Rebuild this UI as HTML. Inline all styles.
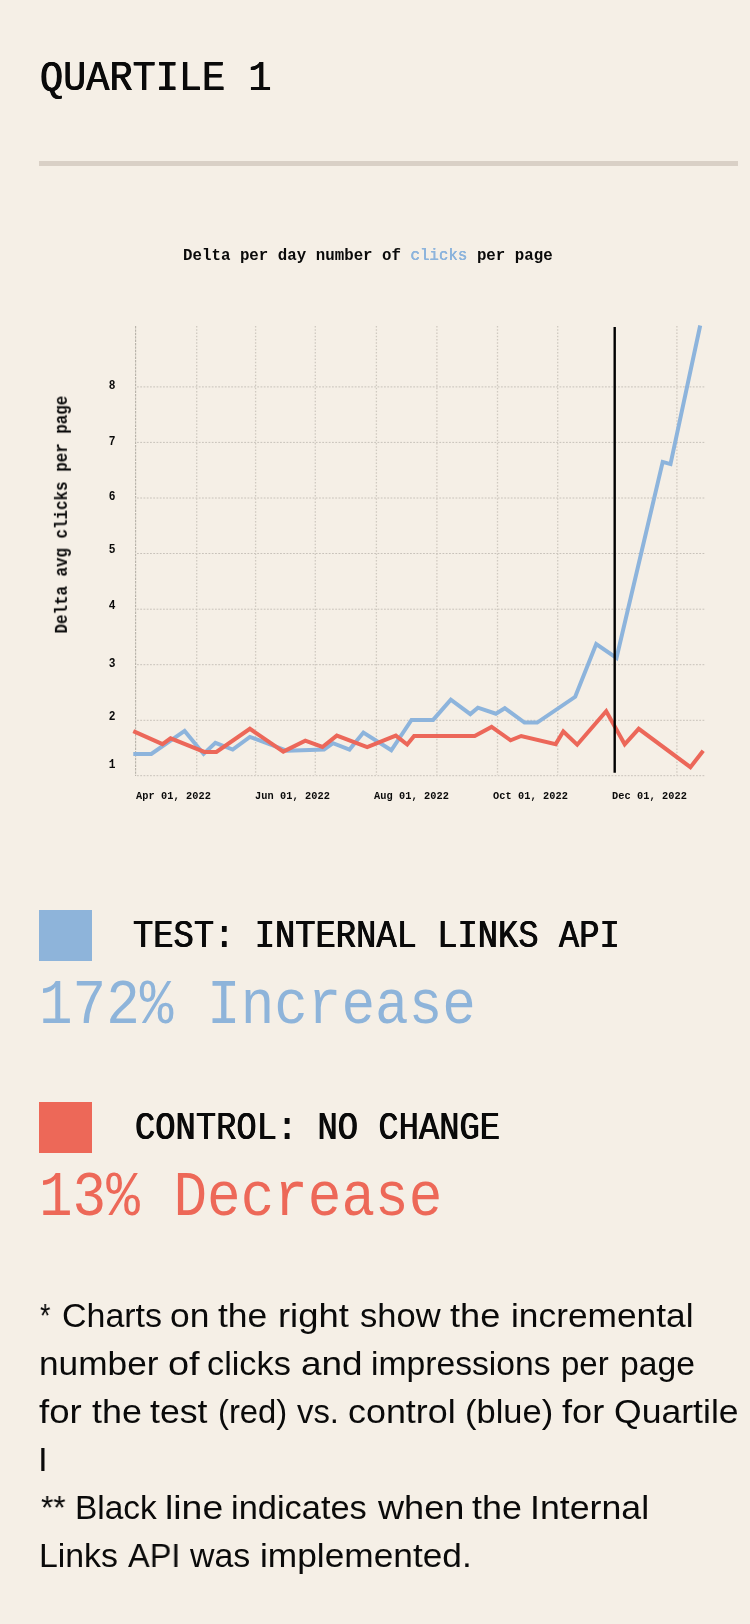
<!DOCTYPE html>
<html>
<head>
<meta charset="utf-8">
<title>Quartile 1</title>
<style>
  html, body { margin: 0; padding: 0; background: #f5efe6; }
  body {
    width: 750px; height: 1624px; overflow: hidden;
    background: #f5efe6;
    font-family: "Liberation Mono", monospace;
    color: #0a0a0a;
    position: relative;
  }
  .abs { position: absolute; white-space: nowrap; line-height: 1; margin: 0; will-change: transform; }
  .sy { transform-origin: 0 76.67%; transform: scaleY(var(--s, 1.1)); }
  .thick { text-shadow: 0.45px 0 0 currentColor, -0.45px 0 0 currentColor; }
  .mono { font-family: "Liberation Mono", monospace; }
  .sans { font-family: "Liberation Sans", sans-serif; }

  #title { left: 40.2px; top: 60.7px; font-size: 38.6px; --s: 1.10; }
  #rule { position: absolute; left: 39px; top: 161px; width: 699px; height: 4.8px; background: #d9d0c6; }

  #ctitle { left: 183px; top: 249px; font-size: 15.8px; font-weight: bold; --s: 1.10; }
  #ctitle span { color: #8db4dc; font-weight: normal; text-shadow: 0.15px 0 0 currentColor, -0.15px 0 0 currentColor; }

  #ylabel { left: 0; top: 0; font-size: 15.85px; font-weight: bold;
            transform-origin: 0 0; transform: translate(55.9px, 633.5px) rotate(-90deg); }
  #ylabel span { display: inline-block; transform-origin: 0 76.67%; transform: scaleY(1.14); }

  .ytick { font-size: 11.2px; font-weight: bold; width: 12px; text-align: center; left: 106px; --s: 1.12; }
  .xtick { letter-spacing: 0.06px; font-size: 10.3px; font-weight: bold; top: 791px; --s: 1.14; }

  .sq { position: absolute; left: 39px; width: 53px; height: 51px; }
  .lg { font-size: 33.8px; }
  .big { font-size: 56px; }

  #notes span { position: absolute; white-space: nowrap; font-size: 32.8px; line-height: 48px; transform-origin: 0 0; will-change: transform; }
</style>
</head>
<body>

<div id="title" class="abs mono sy thick">QUARTILE 1</div>
<div id="rule"></div>

<div id="ctitle" class="abs mono sy">Delta per day number of <span>clicks</span> per page</div>

<svg id="chart" class="abs" style="left:0;top:300px" width="750" height="520" viewBox="0 300 750 520">
  <!-- gridlines -->
  <g fill="none" stroke="#c8c2ba" stroke-width="1" stroke-dasharray="1.8 1.45">
    <path d="M137 386.9H705.5 M137 442.4H705.5 M137 498H705.5 M137 553.5H705.5 M137 609.2H705.5 M137 664.7H705.5 M137 720.3H705.5 M137 775.7H705.5"/>
  </g>
  <g fill="none" stroke="#cfc9c0" stroke-width="1.3" stroke-dasharray="1.5 1.75">
    <path d="M196.7 326V775 M255.6 326V775 M315.3 326V775 M376.4 326V775 M436.9 326V775 M497.5 326V775 M557.7 326V775 M676.9 326V775"/>
  </g>
  <path d="M135.6 326V776" fill="none" stroke="#b6b1a9" stroke-width="1.1" stroke-dasharray="2.4 1"/>

  <!-- blue (test) -->
  <polyline fill="none" stroke="#8db4dc" stroke-width="4" stroke-linejoin="miter" stroke-linecap="butt"
    points="133.3,754 151.3,754 184.6,730.9 203.6,753.9 215.4,742.9 232.7,749.5 249.9,736.9 287.1,750.8 324.1,749.5 333,743.2 349.5,749.5 363.4,732.6 391.3,750.3 411.5,719.9 433.1,719.9 450.8,699.6 470.3,714.1 477.9,707.7 495.9,713.7 504.8,708.2 524.5,722.6 537.2,722.6 575.2,696.8 596.2,644.1 616.5,658 662.7,461.9 670.5,464.1 700.2,325.5"/>
  <!-- red (control) -->
  <polyline fill="none" stroke="#ec6759" stroke-width="4" stroke-linejoin="miter" stroke-linecap="butt"
    points="133.3,731.2 162.5,744.2 170.6,738.3 204.4,751.9 216.4,751.9 249.9,728.8 283.3,751.6 305.3,740.7 322.4,747 336.8,735.6 367.2,747 395.8,735.6 407.2,744.5 414.1,735.9 474.7,735.9 491.6,726.9 510.6,740.3 521.2,736 555.7,744.1 563.3,731.5 577.2,744.7 606.2,711.2 624.7,744.3 638.7,728.8 690.4,767.2 703.2,750.7"/>
  <!-- black marker -->
  <path d="M614.7 327V772.7" fill="none" stroke="#000" stroke-width="2.4"/>
</svg>

<div id="ylabel" class="abs mono"><span>Delta avg clicks per page</span></div>

<div class="abs mono ytick sy" style="top:381px">8</div>
<div class="abs mono ytick sy" style="top:437px">7</div>
<div class="abs mono ytick sy" style="top:492px">6</div>
<div class="abs mono ytick sy" style="top:545px">5</div>
<div class="abs mono ytick sy" style="top:601px">4</div>
<div class="abs mono ytick sy" style="top:659px">3</div>
<div class="abs mono ytick sy" style="top:712px">2</div>
<div class="abs mono ytick sy" style="top:760px">1</div>

<div class="abs mono xtick sy" style="left:135.8px">Apr 01, 2022</div>
<div class="abs mono xtick sy" style="left:255px">Jun 01, 2022</div>
<div class="abs mono xtick sy" style="left:374.3px">Aug 01, 2022</div>
<div class="abs mono xtick sy" style="left:493.3px">Oct 01, 2022</div>
<div class="abs mono xtick sy" style="left:612.3px">Dec 01, 2022</div>

<div class="sq" style="top:909.5px;background:#8eb4da"></div>
<div class="abs mono lg sy thick" style="left:132.5px;top:922px;--s:1.125">TEST: INTERNAL LINKS API</div>
<div class="abs mono big sy" style="left:39px;top:979.5px;color:#8eb4da;--s:1.14">172% Increase</div>

<div class="sq" style="top:1101.7px;background:#ed6858"></div>
<div class="abs mono lg sy thick" style="left:135px;top:1114.4px;--s:1.125">CONTROL: NO CHANGE</div>
<div class="abs mono big sy" style="left:39.3px;top:1171.7px;color:#ed6858;--s:1.14">13% Decrease</div>

<!--NOTES-->
<div id="notes" class="sans">
<span style="left:40.17px;top:1292px;transform:scaleX(0.8084)">*</span>
<span style="left:61.54px;top:1292px;transform:scaleX(1.0349)">Charts</span>
<span style="left:170.29px;top:1292px;transform:scaleX(1.0791)">on</span>
<span style="left:218.33px;top:1292px;transform:scaleX(1.0808)">the</span>
<span style="left:277.72px;top:1292px;transform:scaleX(1.1095)">right</span>
<span style="left:359.89px;top:1292px;transform:scaleX(1.0524)">show</span>
<span style="left:450.27px;top:1292px;transform:scaleX(1.1038)">the</span>
<span style="left:510.54px;top:1292px;transform:scaleX(1.0765)">incremental</span>
<span style="left:38.97px;top:1340px;transform:scaleX(1.0747)">number</span>
<span style="left:167.82px;top:1340px;transform:scaleX(1.1568)">of</span>
<span style="left:207.43px;top:1340px;transform:scaleX(1.0452)">clicks</span>
<span style="left:300.50px;top:1340px;transform:scaleX(1.1255)">and</span>
<span style="left:371.43px;top:1340px;transform:scaleX(1.0261)">impressions</span>
<span style="left:560.59px;top:1340px;transform:scaleX(1.0069)">per</span>
<span style="left:620.16px;top:1340px;transform:scaleX(1.0277)">page</span>
<span style="left:39.38px;top:1388px;transform:scaleX(1.1163)">for</span>
<span style="left:91.81px;top:1388px;transform:scaleX(1.0923)">the</span>
<span style="left:150.31px;top:1388px;transform:scaleX(1.0877)">test</span>
<span style="left:218.28px;top:1388px;transform:scaleX(0.9995)">(red)</span>
<span style="left:296.81px;top:1388px;transform:scaleX(0.9951)">vs.</span>
<span style="left:348.13px;top:1388px;transform:scaleX(1.0936)">control</span>
<span style="left:464.81px;top:1388px;transform:scaleX(1.0507)">(blue)</span>
<span style="left:561.91px;top:1388px;transform:scaleX(1.1029)">for</span>
<span style="left:613.71px;top:1388px;transform:scaleX(1.0852)">Quartile</span>
<span style="left:38.44px;top:1436px;transform:scaleX(1.0700)">I</span>
<span style="left:40.51px;top:1484px;transform:scaleX(0.9638)">**</span>
<span style="left:74.94px;top:1484px;transform:scaleX(1.0199)">Black</span>
<span style="left:165.10px;top:1484px;transform:scaleX(1.1399)">line</span>
<span style="left:231.29px;top:1484px;transform:scaleX(1.0490)">indicates</span>
<span style="left:377.60px;top:1484px;transform:scaleX(1.1015)">when</span>
<span style="left:471.81px;top:1484px;transform:scaleX(1.0923)">the</span>
<span style="left:530.19px;top:1484px;transform:scaleX(1.0892)">Internal</span>
<span style="left:39.32px;top:1532px;transform:scaleX(1.0310)">Links</span>
<span style="left:128.42px;top:1532px;transform:scaleX(0.9900)">API</span>
<span style="left:190.10px;top:1532px;transform:scaleX(1.0336)">was</span>
<span style="left:260.04px;top:1532px;transform:scaleX(1.0756)">implemented.</span>
</div>
<!--/NOTES-->

</body>
</html>
